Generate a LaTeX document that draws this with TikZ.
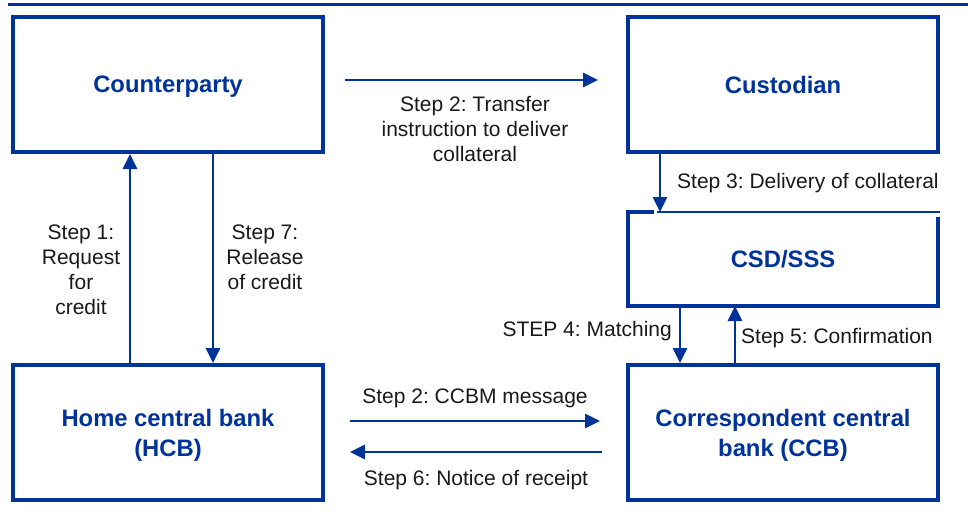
\documentclass[tikz,border=0pt]{standalone}
\usepackage{fontspec}
\setmainfont{Liberation Sans}
\frenchspacing
\usetikzlibrary{arrows.meta,calc}
\definecolor{ecbblue}{RGB}{0,51,153}
\begin{document}
\frenchspacing
\begin{tikzpicture}[x=1pt,y=-1pt,
  box/.style={draw=ecbblue,line width=4pt,minimum width=310pt,minimum height=135pt,inner sep=0pt,
    text=ecbblue,font=\fontsize{23.8}{30}\selectfont\bfseries,align=center,text depth=-1pt},
  lbl/.style={font=\fontsize{21}{25}\selectfont,align=center,inner sep=0pt,text=black!90},
  arr/.style={draw=ecbblue,line width=2.8pt,-{Triangle[length=15pt,width=14pt]}},
  rule/.style={draw=ecbblue,line width=3pt}]
\useasboundingbox (0,0) rectangle (968,511);
% top rule
\coordinate (rl) at (8,5);
\coordinate (rr) at (968,5);
\draw[rule] (rl) -- (rr);
% boxes
\node[box] (cp) at (168,84.5) {Counterparty};
\node[box] (cu) at (783,84.5) {Custodian};
\node[box,draw=none,outer sep=0pt,minimum height=94pt] (csd) at (783,259) {CSD/SSS};
\node[box] (hcb) at (168,432.5) {Home central bank\\(HCB)};
\node[box] (ccb) at (783,432.5) {Correspondent central\\bank (CCB)};
% CSD box outline (as drawn in reference)
\draw[ecbblue,line width=4pt] (csd.north west) -- (csd.south west) -- (csd.south east) -- ([yshift=-5pt]csd.north east);
\draw[ecbblue,line width=2.2pt] ([xshift=29pt]csd.north west) -- ([xshift=2pt]csd.north east);
\draw[ecbblue,line width=4pt] ([xshift=-2pt]csd.north west) -- ([xshift=26pt]csd.north west);
% connectors
\draw[arr] ([xshift=20pt,yshift=4.5pt]cp.east) -- ([xshift=-28pt,yshift=4.5pt]cu.west);
\draw[arr] ([xshift=-38pt]hcb.north) -- ([xshift=-38pt]cp.south);
\draw[arr] ([xshift=45pt]cp.south) -- ([xshift=45pt]hcb.north);
\draw[arr] ([xshift=-123pt]cu.south) -- ([xshift=-123pt]csd.north);
\draw[arr] ([xshift=-103pt]csd.south) -- ([xshift=-103pt]ccb.north);
\draw[arr] ([xshift=-48pt]ccb.north) -- ([xshift=-48pt]csd.south);
\draw[arr] ([xshift=25pt,yshift=11.5pt]hcb.east) -- ([xshift=-26pt,yshift=11.5pt]ccb.west);
\draw[arr] ([xshift=-24pt,yshift=-19.5pt]ccb.west) -- ([xshift=25pt,yshift=-19.5pt]hcb.east);
% labels
\node[lbl] (l2a) at (475,129) {Step 2: Transfer\\instruction to deliver\\collateral};
\node[lbl] (l1) at (81,270) {Step 1:\\Request\\for\\credit};
\node[lbl] (l7) at (265,257) {Step 7:\\Release\\of credit};
\node[lbl,anchor=west] (l3) at (677,183) {Step 3: Delivery of collateral};
\node[lbl,anchor=east] (l4) at (672,331) {STEP 4: Matching};
\node[lbl,anchor=west] (l5) at (741,338) {Step 5: Confirmation};
\node[lbl] (l2b) at (475,398) {Step 2: CCBM message};
\node[lbl] (l6) at (476,480) {Step 6: Notice of receipt};
\end{tikzpicture}
\end{document}
